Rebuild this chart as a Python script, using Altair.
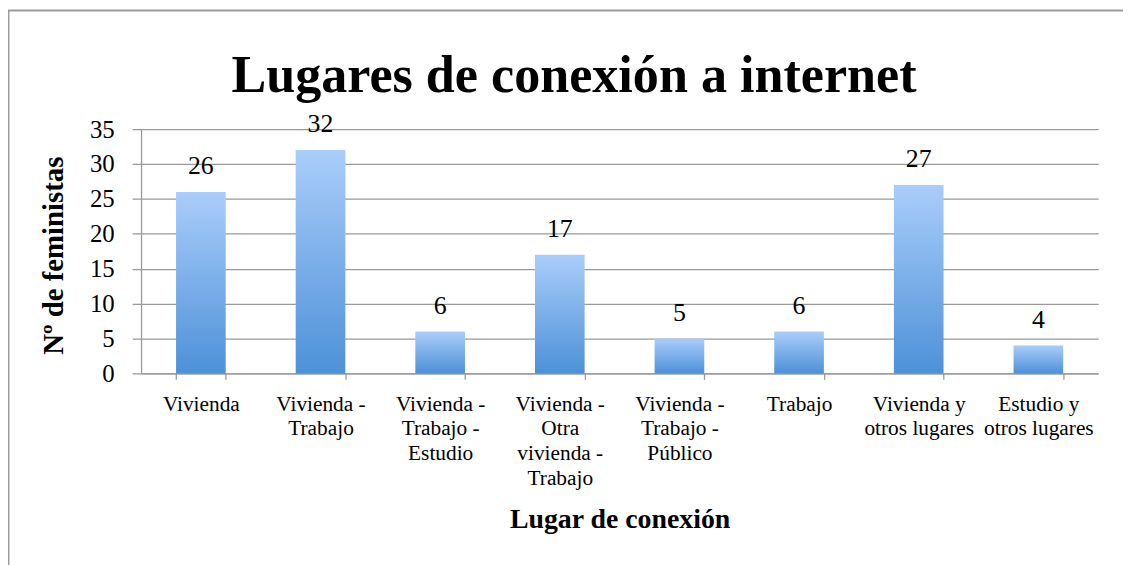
import altair as alt
import pandas as pd

# ---- data ----
categories = [
    "Vivienda",
    "Vivienda -\nTrabajo",
    "Vivienda -\nTrabajo -\nEstudio",
    "Vivienda  -\nOtra\nvivienda -\nTrabajo",
    "Vivienda -\nTrabajo -\nPúblico",
    "Trabajo",
    "Vivienda y\notros lugares",
    "Estudio y\notros lugares",
]
values = [26, 32, 6, 17, 5, 6, 27, 4]
y_ticks = [0, 5, 10, 15, 20, 25, 30, 35]

chart_title = "Lugares de conexión a internet"
x_title = "Lugar de conexión"
y_title = "Nº de feministas"

df = pd.DataFrame({"lugar": categories, "n": values})

FONT = "Liberation Serif"
GRID = "#9A9A9A"
W, H = 964, 246

grad = alt.LinearGradient(
    gradient="linear",
    stops=[alt.GradientStop(color="#AACDFA", offset=0),
           alt.GradientStop(color="#4D91D8", offset=1)],
    x1=0, x2=0, y1=0, y2=1,
)

x_enc = alt.X(
    "lugar:N", sort=categories,
    scale=alt.Scale(paddingInner=0.585, paddingOuter=0.2925),
    axis=alt.Axis(
        title=x_title,
        labelExpr="datum.value ? split(datum.value, '\\n') : ''", labelAngle=0,
        labelFont=FONT, labelFontSize=21.5, labelLineHeight=25, labelColor="black",
        labelPadding=14, labelBaseline="top", labelOverlap=False, labelLimit=300,
        tickBand="extent", tickSize=6, tickColor=GRID, tickWidth=1.3,
        domainColor=GRID, domainWidth=1.3,
        titleFont=FONT, titleFontSize=28, titleFontWeight="bold", titleColor="black",
        titleX=W / 2, titleY=155, titleAlign="center", titleBaseline="alphabetic",
    ),
)

y_enc = alt.Y(
    "n:Q", scale=alt.Scale(domain=[0, 35], nice=False),
    axis=alt.Axis(
        values=y_ticks, title=y_title, labelOverlap=False,
        labelFont=FONT, labelFontSize=25, labelColor="black", labelPadding=18,
        tickSize=9, tickColor=GRID, tickWidth=1.3,
        domainColor=GRID, domainWidth=1.3,
        grid=True, gridColor=GRID, gridWidth=1.3,
        titleFont=FONT, titleFontSize=29, titleFontWeight="bold", titleColor="black",
        titleAngle=-90, titleX=-79, titleY=H / 2 + 4, titleAlign="center",
        titleBaseline="alphabetic",
    ),
)

bars = alt.Chart(df).mark_bar(color=grad).encode(x=x_enc, y=y_enc)
labels = alt.Chart(df).mark_text(
    font=FONT, fontSize=26, color="black", baseline="alphabetic", dy=-18
).encode(x=x_enc, y=y_enc, text="n:Q")

frame_df = pd.DataFrame({"k": [1]})
top_border = alt.Chart(frame_df).mark_rule(color="#9C9C9C", strokeWidth=2).encode(
    x=alt.value(-134), x2=alt.value(1000), y=alt.value(-119.5)
)
left_border = alt.Chart(frame_df).mark_rule(color="#9C9C9C", strokeWidth=2).encode(
    x=alt.value(-133.5), y=alt.value(-120), y2=alt.value(440)
)

chart = (
    alt.layer(bars, labels, top_border, left_border)
    .properties(
        width=W, height=H,
        autosize="none",
        padding={"left": 134, "top": 120, "right": 25, "bottom": 191},
        title=alt.TitleParams(
            text=chart_title, font=FONT, fontSize=52.5, fontWeight="bold",
            color="black", anchor="middle", frame="group", dx=-46, dy=136.5,
            offset=0, baseline="alphabetic",
        ),
    )
    .configure_view(stroke=None)
)

chart.save("out.html", embed_options={"renderer": "svg", "actions": False})
